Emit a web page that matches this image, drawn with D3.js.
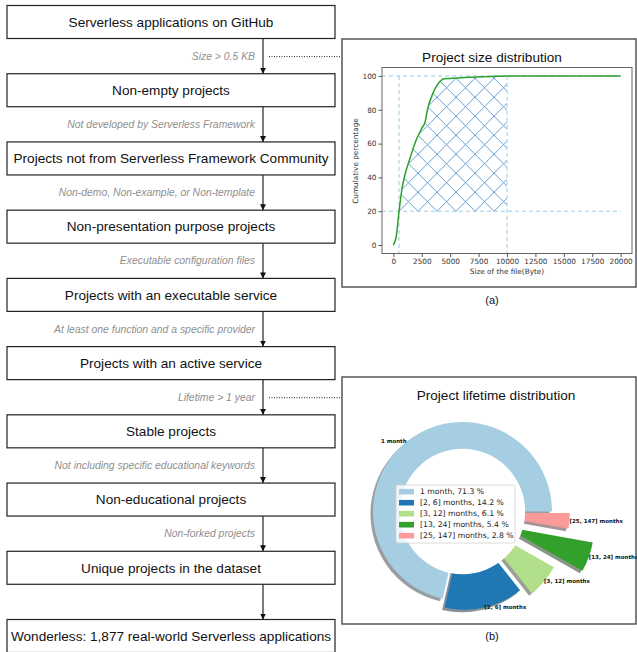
<!DOCTYPE html>
<html>
<head>
<meta charset="utf-8">
<script src="https://cdn.jsdelivr.net/npm/d3@7"></script>
<style>
  body { margin: 0; background: #fff; }
  svg { display: block; }
</style>
</head>
<body>
<div id="viz"></div>
<script>
// Flowchart steps and the filters between them
const steps = [
  "Serverless applications on GitHub",
  "Non-empty projects",
  "Projects not from Serverless Framework Community",
  "Non-presentation purpose projects",
  "Projects with an executable service",
  "Projects with an active service",
  "Stable projects",
  "Non-educational projects",
  "Unique projects in the dataset",
  "Wonderless: 1,877 real-world Serverless applications"
];
const filters = [
  "Size > 0.5 KB",
  "Not developed by Serverless Framework",
  "Non-demo, Non-example, or Non-template",
  "Executable configuration files",
  "At least one function and a specific provider",
  "Lifetime > 1 year",
  "Not including specific educational keywords",
  "Non-forked projects",
  ""
];
// which filters point to a chart (dotted connector)
const linkedFilters = [0, 5];

// (a) project size distribution - cumulative percentage
const sizeBytes = [0, 250, 500, 750, 1000, 1500, 2000, 2500, 2800, 3000, 3500, 4000, 4500, 5000, 6000, 7000, 8000, 9000, 10000, 12500, 15000, 17500, 20000];
const sizePct = [0, 5, 20, 33, 41, 52, 62, 69, 73, 80, 90, 96, 98.4, 98.5, 99, 99.3, 99.6, 99.8, 100, 100, 100, 100, 100];
const sizeXTicks = [0, 2500, 5000, 7500, 10000, 12500, 15000, 17500, 20000];
const sizeYTicks = [0, 20, 40, 60, 80, 100];
const sizeCuts = [500, 10000];
const pctCuts = [20, 100];

// (b) project lifetime distribution
const lifeCats = ["1 month", "[2, 6] months", "[3, 12] months", "[13, 24] months", "[25, 147] months"];
const lifePct = [71.3, 14.2, 6.1, 5.4, 2.8];
const lifeExplode = [0, 0.1, 0.2, 0.5, 0.2];
const lifeColors = ["#a6cee3", "#1f78b4", "#b2df8a", "#33a02c", "#fb9a99"];

const W = 637, H = 652;
const helv = "'Liberation Sans', Arial, Helvetica, sans-serif";
const mpl = "'DejaVu Sans', sans-serif";

const svg = d3.select("#viz").append("svg")
  .attr("width", W)
  .attr("height", H);

//---------------- flowchart ----------------
const boxX = 7, boxW = 328, boxH = 33, arrowX = 263;
const yStep = d3.scaleLinear().domain([0, steps.length - 1]).range([22, 636]);

const flow = svg.append("g");
steps.forEach((s, i) => {
  const cy = yStep(i);
  flow.append("rect")
    .attr("x", boxX).attr("y", cy - boxH / 2)
    .attr("width", boxW).attr("height", boxH)
    .attr("fill", "#fff").attr("stroke", "#222").attr("stroke-width", 1.2);
  flow.append("text")
    .attr("x", boxX + boxW / 2).attr("y", cy)
    .attr("dy", "0.35em").attr("text-anchor", "middle")
    .style("font-family", helv).style("font-size", "13.6px").style("fill", "#111")
    .text(s);
});

svg.append("defs").append("marker")
  .attr("id", "head").attr("viewBox", "0 0 10 10")
  .attr("refX", 10).attr("refY", 5)
  .attr("markerWidth", 6).attr("markerHeight", 6)
  .attr("markerUnits", "userSpaceOnUse")
  .attr("orient", "auto")
  .append("path").attr("d", "M0,0L10,5L0,10Z").attr("fill", "#111");

filters.forEach((f, i) => {
  const y0 = yStep(i) + boxH / 2, y1 = yStep(i + 1) - boxH / 2;
  flow.append("line")
    .attr("x1", arrowX).attr("x2", arrowX)
    .attr("y1", y0).attr("y2", y1)
    .attr("stroke", "#222").attr("stroke-width", 1.2)
    .attr("marker-end", "url(#head)");
  flow.append("text")
    .attr("x", arrowX - 8).attr("y", (y0 + y1) / 2)
    .attr("dy", "0.35em").attr("text-anchor", "end")
    .style("font-family", helv).style("font-size", "10.4px")
    .style("font-style", "italic").style("fill", "#8f8f8f")
    .text(f);
  if (linkedFilters.includes(i)) {
    flow.append("line")
      .attr("x1", arrowX + 6).attr("x2", 341)
      .attr("y1", (y0 + y1) / 2 + 0.5).attr("y2", (y0 + y1) / 2 + 0.5)
      .attr("stroke", "#222").attr("stroke-width", 1)
      .attr("stroke-dasharray", "1,1.5");
  }
});

//---------------- (a) size distribution ----------------
svg.append("rect")
  .attr("x", 342).attr("y", 39).attr("width", 294).attr("height", 248)
  .attr("fill", "#fff").attr("stroke", "#555").attr("stroke-width", 1.5);

const x = d3.scaleLinear().domain([-1000, 21000]).range([382, 632]);
const y = d3.scaleLinear().domain([-5, 105]).range([253.5, 67.5]);

svg.append("text")
  .attr("x", 492).attr("y", 62).attr("text-anchor", "middle")
  .style("font-family", helv).style("font-size", "13.6px").style("fill", "#111")
  .text("Project size distribution");

const hatch = svg.select("defs").append("pattern")
  .attr("id", "xhatch").attr("patternUnits", "userSpaceOnUse")
  .attr("width", 19).attr("height", 19)
  .attr("patternTransform", `translate(${x(sizeCuts[0])},${y(pctCuts[0])})`);
hatch.append("path")
  .attr("d", "M0,0L19,19M0,19L19,0M-2,2L2,-2M17,21L21,17M-2,17L2,21M17,-2L21,2")
  .attr("stroke", "#3f86c8").attr("stroke-width", 0.8).attr("fill", "none");

const sizeData = sizeBytes.map((b, i) => ({ b, p: sizePct[i] }));
const inCut = sizeData.filter(d => d.b >= sizeCuts[0] && d.b <= sizeCuts[1]);

svg.append("path")
  .datum(inCut)
  .attr("d", d3.area().x(d => x(d.b)).y0(y(pctCuts[0])).y1(d => y(d.p)).curve(d3.curveMonotoneX))
  .attr("fill", "url(#xhatch)");

// dashed guide lines
const guide = svg.append("g")
  .attr("stroke", "#9ccbe6").attr("stroke-width", 1).attr("stroke-dasharray", "4,3");
pctCuts.forEach(p => {
  guide.append("line")
    .attr("x1", x.range()[0]).attr("x2", x(20000))
    .attr("y1", y(p)).attr("y2", y(p));
});
sizeCuts.forEach(b => {
  guide.append("line")
    .attr("x1", x(b)).attr("x2", x(b))
    .attr("y1", y(100)).attr("y2", y.range()[0]);
});

svg.append("path")
  .datum(sizeData)
  .attr("d", d3.line().x(d => x(d.b)).y(d => y(d.p)).curve(d3.curveMonotoneX))
  .attr("fill", "none").attr("stroke", "#2ca02c").attr("stroke-width", 1.5);

// axes
const xAxis = svg.append("g")
  .attr("transform", `translate(0,${y.range()[0]})`)
  .call(d3.axisBottom(x).tickValues(sizeXTicks).tickSize(3.5).tickPadding(2).tickFormat(d3.format("d")));
const yAxis = svg.append("g")
  .attr("transform", `translate(${x.range()[0]},0)`)
  .call(d3.axisLeft(y).tickValues(sizeYTicks).tickSize(3.5).tickPadding(2));
[xAxis, yAxis].forEach(a => {
  a.select(".domain").remove();
  a.selectAll("line").attr("stroke", "#555");
  a.selectAll("text").style("font-family", mpl).style("font-size", "7.3px").style("fill", "#333");
});

svg.append("rect")
  .attr("x", x.range()[0]).attr("y", y.range()[1])
  .attr("width", x.range()[1] - x.range()[0])
  .attr("height", y.range()[0] - y.range()[1])
  .attr("fill", "none").attr("stroke", "#666").attr("stroke-width", 1);

svg.append("text")
  .attr("x", 507).attr("y", 274).attr("text-anchor", "middle")
  .style("font-family", mpl).style("font-size", "7.3px").style("fill", "#333")
  .text("Size of the file(Byte)");
svg.append("text")
  .attr("transform", "translate(358,161) rotate(-90)").attr("text-anchor", "middle")
  .style("font-family", mpl).style("font-size", "7.3px").style("fill", "#333")
  .text("Cumulative percentage");

svg.append("text")
  .attr("x", 492).attr("y", 304).attr("text-anchor", "middle")
  .style("font-family", helv).style("font-size", "11px").style("fill", "#111")
  .text("(a)");

//---------------- (b) lifetime distribution ----------------
svg.append("rect")
  .attr("x", 342).attr("y", 377).attr("width", 294).attr("height", 247)
  .attr("fill", "#fff").attr("stroke", "#555").attr("stroke-width", 1.5);

svg.append("text")
  .attr("x", 496).attr("y", 400).attr("text-anchor", "middle")
  .style("font-family", helv).style("font-size", "13.6px").style("fill", "#111")
  .text("Project lifetime distribution");

const cx = 462.5, cy = 511.5, R = 89.5;
const pie = d3.pie().sort(null).value(d => d)
  .startAngle(Math.PI / 2).endAngle(Math.PI / 2 - 2 * Math.PI);
const arcs = pie(lifePct).map((a, i) => {
  const mid = (a.startAngle + a.endAngle) / 2;
  return { a, i, dx: Math.sin(mid), dy: -Math.cos(mid), off: lifeExplode[i] * R };
});
const wedge = d3.arc().innerRadius(0).outerRadius(R);

const donut = svg.append("g");
// shadows first (below every wedge)
arcs.forEach(d => {
  const c = d3.rgb(lifeColors[d.i]);
  donut.append("path")
    .attr("transform", `translate(${cx + d.off * d.dx - 2.5},${cy + d.off * d.dy + 2.5})`)
    .attr("d", wedge(d.a))
    .attr("fill", d3.rgb(c.r * 0.3, c.g * 0.3, c.b * 0.3))
    .attr("fill-opacity", 0.5);
});
arcs.forEach(d => {
  donut.append("path")
    .attr("transform", `translate(${cx + d.off * d.dx},${cy + d.off * d.dy})`)
    .attr("d", wedge(d.a))
    .attr("fill", lifeColors[d.i]);
});
donut.append("circle")
  .attr("cx", cx).attr("cy", cy).attr("r", R * 0.7)
  .attr("fill", "#fff");

arcs.forEach(d => {
  const r = d.off + R * 1.0;
  donut.append("text")
    .attr("x", cx + r * d.dx).attr("y", cy + r * d.dy)
    .attr("dy", "0.35em")
    .attr("text-anchor", d.dx > 0 ? "start" : "end")
    .style("font-family", mpl).style("font-size", "5.5px")
    .style("font-weight", "bold").style("fill", "#111")
    .text(lifeCats[d.i]);
});

// legend
const leg = svg.append("g").attr("transform", "translate(396,485)");
leg.append("rect")
  .attr("width", 119).attr("height", 58).attr("rx", 2)
  .attr("fill", "#fff").attr("fill-opacity", 0.8)
  .attr("stroke", "#d0d0d0").attr("stroke-width", 0.8);
lifeCats.forEach((c, i) => {
  const ly = 6.7 + i * 11;
  leg.append("rect")
    .attr("x", 3).attr("y", ly - 2.8).attr("width", 15).attr("height", 5.6)
    .attr("fill", lifeColors[i]);
  leg.append("text")
    .attr("x", 24).attr("y", ly).attr("dy", "0.35em")
    .style("font-family", mpl).style("font-size", "7.7px").style("fill", "#222")
    .text(`${c}, ${lifePct[i]} %`);
});

svg.append("text")
  .attr("x", 492).attr("y", 640).attr("text-anchor", "middle")
  .style("font-family", helv).style("font-size", "11px").style("fill", "#111")
  .text("(b)");
</script>
</body>
</html>
